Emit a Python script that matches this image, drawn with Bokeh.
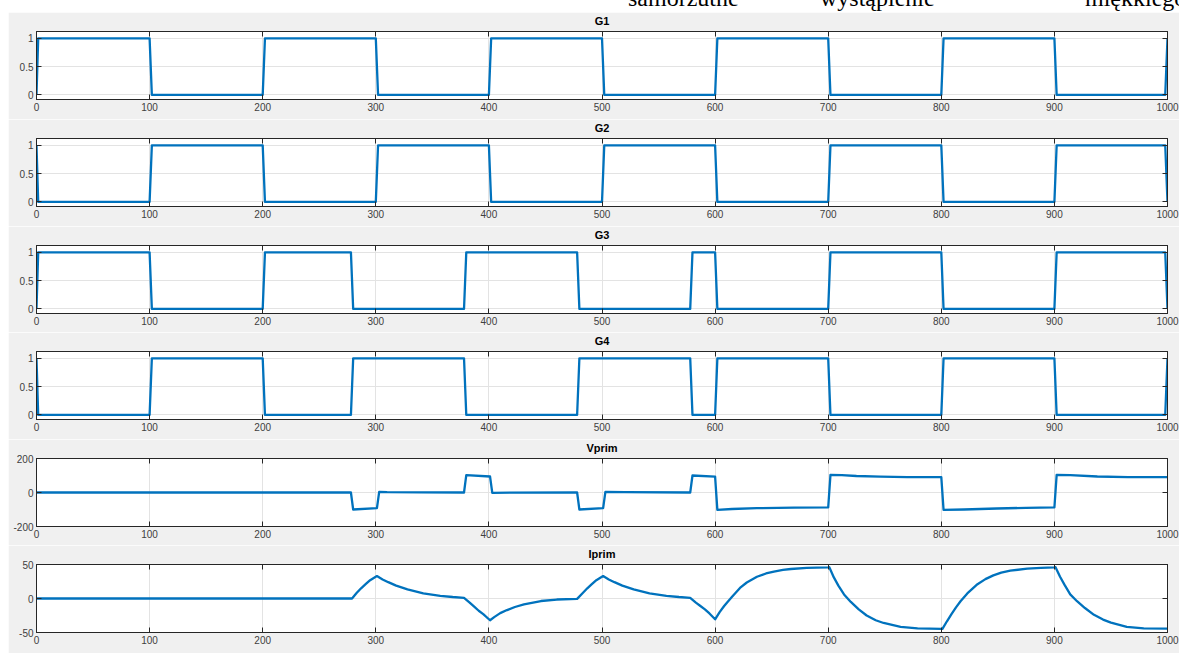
from bokeh.plotting import figure
from bokeh.models import Range1d, LinearAxis, FixedTicker, Div, CustomLabelingPolicy
from bokeh.layouts import column
from bokeh.embed import file_html
from bokeh.resources import INLINE

# ---------------- data ----------------
x_ticks = [0, 100, 200, 300, 400, 500, 600, 700, 800, 900, 1000]
x_tick_labels = ["0", "100", "200", "300", "400", "500", "600", "700", "800", "900", "1000"]

g_ticks = [0, 0.5, 1]
g_tick_labels = ["0", "0.5", "1"]
v_ticks = [-200, 0, 200]
v_tick_labels = ["-200", "0", "200"]
i_ticks = [-50, 0, 50]
i_tick_labels = ["-50", "0", "50"]

titles = ["G1", "G2", "G3", "G4", "Vprim", "Iprim"]
header_words = ["samorzutne", "wystąpienie", "miękkiego"]

t_g12 = [0, 1.5, 100, 102, 200, 202, 300, 302, 400, 402, 500, 502, 600, 602,
         700, 702, 800, 802, 900, 902, 998, 1000]
g1 = [0, 1, 1, 0, 0, 1, 1, 0, 0, 1, 1, 0, 0, 1, 1, 0, 0, 1, 1, 0, 0, 1]
g2 = [1, 0, 0, 1, 1, 0, 0, 1, 1, 0, 0, 1, 1, 0, 0, 1, 1, 0, 0, 1, 1, 0]

t_g34 = [0, 1.5, 100, 102, 200, 202, 278, 280, 378, 380, 478, 480, 578, 580,
         600, 602, 700, 702, 800, 802, 900, 902, 998, 1000]
g3 = [0, 1, 1, 0, 0, 1, 1, 0, 0, 1, 1, 0, 0, 1, 1, 0, 0, 1, 1, 0, 0, 1, 1, 0]
g4 = [1, 0, 0, 1, 1, 0, 0, 1, 1, 0, 0, 1, 1, 0, 0, 1, 1, 0, 0, 1, 1, 0, 0, 1]

t_v = [0, 278, 280, 301, 303, 310, 340, 378, 380, 401, 403, 420, 478, 480,
       501, 503, 520, 578, 580, 600, 602, 615, 637, 670, 700, 702, 712, 725,
       746, 770, 800, 802, 820, 849, 875, 900, 902, 914, 938, 965, 1000]
vprim = [0, 0, -100, -92, 4, 2, 1, 0, 102, 94, -2, -1, 0, -100,
         -92, 4, 2, 0, 100, 93, -102, -97, -92, -89, -88, 104, 102, 97,
         93, 91, 90, -102, -100, -94, -90, -88, 104, 102, 94, 91, 90]

t_i = [0, 279, 283, 287, 291, 295, 301,
       306, 311, 318, 328, 342, 357, 368, 378,
       383, 387, 391, 395, 401,
       405, 410, 416, 423, 431, 446, 460, 478,
       483, 487, 491, 495, 501,
       506, 511, 518, 528, 542, 557, 568, 578,
       583, 587, 591, 595, 600,
       604, 608, 611, 615, 618, 622, 628, 637, 645, 652, 660, 667, 681, 690, 700,
       701, 705, 709, 714, 720, 727, 734, 742, 749, 764, 779, 800,
       801, 805, 809, 813, 817, 823, 832, 839, 846, 853, 861, 876, 888, 900,
       901, 905, 909, 914, 920, 927, 935, 943, 950, 964, 979, 1000]
iprim = [0, 0, 8, 15, 21, 27, 33,
         28, 24, 19, 13.5, 7.6, 4, 2.2, 1,
         -6, -12, -18, -23, -32,
         -27, -21.5, -17, -12.5, -8.6, -3.7, -1.5, -0.5,
         8, 15, 21, 27, 33,
         28, 24, 19, 13.5, 7.6, 4, 2.2, 1,
         -6, -11, -16, -22, -30.6,
         -20, -11, -5, 2.5, 8, 15.5, 23.5, 32, 36.8, 39.6, 42, 43.4, 44.9, 45.4, 45.8,
         46, 31, 19, 6, -5, -16, -25, -32, -36, -41.6, -44, -44.6,
         -44.6, -33.5, -23, -13, -4, 7.5, 21, 28.5, 34, 38, 41, 43.8, 45, 45.8,
         46, 32, 20, 6, -4, -14, -24, -31, -35.5, -41.6, -44, -44.4]

# ---------------- styling ----------------
BG = "#f0f0f0"
LINE = "#0072bd"
AX = "#262626"
LBL = "#404040"
FONT = "Liberation Sans"
W = 1171

no_labels = CustomLabelingPolicy(
    code="for (const i of Array.from(indices)) indices.unset(i); return indices")


def panel(title, t, y, yr, yt, ytl, height, bottom):
    p = figure(width=W, height=height,
               x_range=Range1d(0, 1000), y_range=Range1d(*yr),
               output_backend="svg", toolbar_location=None,
               min_border_left=28, min_border_right=12,
               min_border_top=19, min_border_bottom=bottom,
               border_fill_color=BG, background_fill_color="white",
               outline_line_color=AX, title=title, margin=(0, 0, 0, 8))
    p.title.align = "center"
    p.title.text_font = FONT
    p.title.text_font_size = "11px"
    p.title.text_font_style = "bold"
    p.title.text_color = "#000000"
    p.title.standoff = 1

    xt = FixedTicker(ticks=x_ticks)
    ytk = FixedTicker(ticks=yt)
    for ax in p.xaxis:
        ax.ticker = xt
        ax.major_label_overrides = dict(zip(x_ticks, x_tick_labels))
    for ax in p.yaxis:
        ax.ticker = ytk
        ax.major_label_overrides = dict(zip(yt, ytl))
    for ax in list(p.xaxis) + list(p.yaxis):
        ax.major_tick_in = 5
        ax.major_tick_out = 0
        ax.minor_tick_line_color = None
        ax.axis_line_color = AX
        ax.major_tick_line_color = AX
        ax.major_label_text_font = FONT
        ax.major_label_text_font_size = "10px"
        ax.major_label_text_color = LBL
        ax.major_label_standoff = 3

    top = LinearAxis(ticker=xt, major_label_policy=no_labels,
                     major_label_text_font_size="1px",
                     major_label_standoff=0, major_tick_in=5, major_tick_out=0,
                     minor_tick_line_color=None, axis_line_color=AX,
                     major_tick_line_color=AX)
    right = LinearAxis(ticker=ytk, major_label_policy=no_labels,
                       major_label_text_font_size="1px",
                       major_label_standoff=0, major_tick_in=5, major_tick_out=0,
                       minor_tick_line_color=None, axis_line_color=AX,
                       major_tick_line_color=AX)
    p.add_layout(top, "above")
    p.add_layout(right, "right")

    p.xgrid.ticker = xt
    p.ygrid.ticker = ytk
    p.grid.grid_line_color = "#e3e3e3"
    p.grid.grid_line_width = 1

    p.line(t, y, line_color=LINE, line_width=2.3, line_join="round")
    return p


gr = (-0.08, 1.12)
p1 = panel(titles[0], t_g12, g1, gr, g_ticks, g_tick_labels, 107, 20)
p2 = panel(titles[1], t_g12, g2, gr, g_ticks, g_tick_labels, 107, 20)
p3 = panel(titles[2], t_g34, g3, gr, g_ticks, g_tick_labels, 106, 19)
p4 = panel(titles[3], t_g34, g4, gr, g_ticks, g_tick_labels, 107, 20)
p5 = panel(titles[4], t_v, vprim, (-200, 200), v_ticks, v_tick_labels, 106, 19)
p6 = panel(titles[5], t_i, iprim, (-50, 50), i_ticks, i_tick_labels, 108, 21)

span = "position:absolute;top:-14px;white-space:nowrap;"
lefts = [620, 812, 1077]
inner = "".join(f'<span style="{span}left:{l}px;">{w}</span>'
                for w, l in zip(header_words, lefts))
head = Div(
    text=('<div style="position:relative;width:1171px;height:12px;overflow:hidden;'
          'background:white;font-family:\'Liberation Serif\';font-size:24px;'
          'line-height:24px;color:#000;">' + inner + '</div>'),
    width=W, height=12, margin=(0, 0, 0, 8))

layout = column(head, p1, p2, p3, p4, p5, p6, spacing=0)

html = file_html(layout, INLINE)
open("out.html", "w").write(html)
